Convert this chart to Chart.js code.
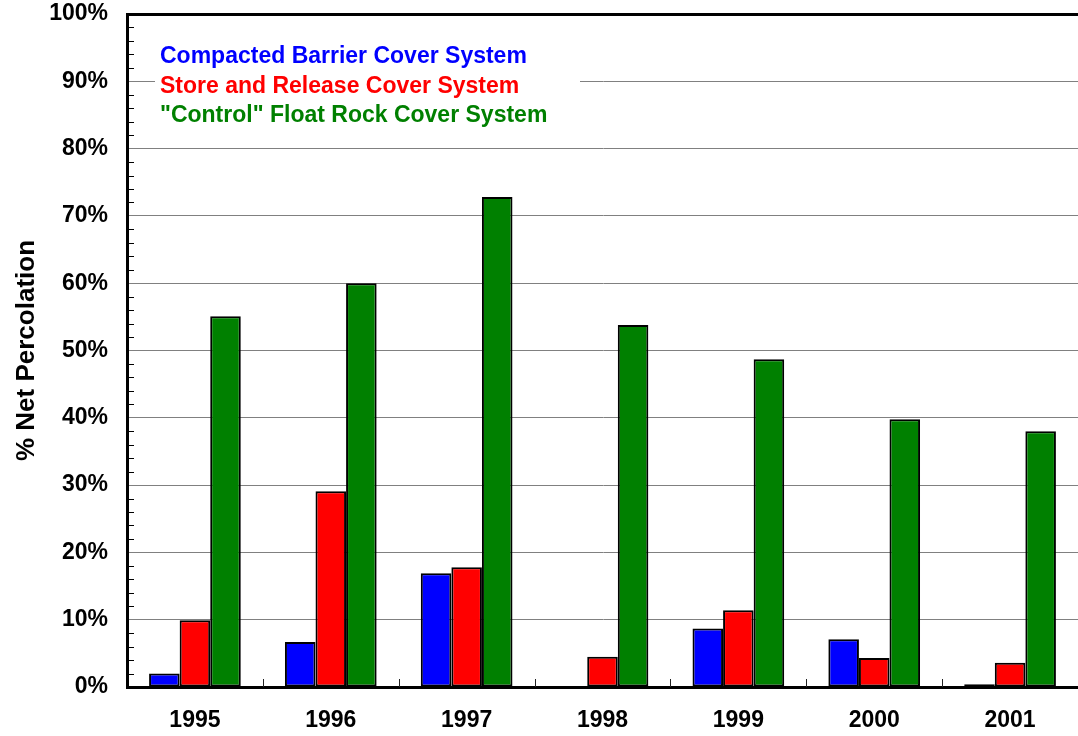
<!DOCTYPE html>
<html><head><meta charset="utf-8">
<script src="https://cdn.jsdelivr.net/npm/chart.js@4/dist/chart.umd.min.js"></script>
<style>html,body{margin:0;padding:0;background:#fff}#wrap{width:1078px;height:736px;position:relative}</style>
</head><body><div id="wrap"><canvas id="c"></canvas></div>
<script>
const categories = ['1995','1996','1997','1998','1999','2000','2001'];
const seriesNames = ['Compacted Barrier Cover System','Store and Release Cover System','"Control" Float Rock Cover System'];
const compactedBarrier = [2.0, 6.7, 16.9, 0.1, 8.7, 7.1, 0.4];
const storeRelease = [9.9, 29.1, 17.8, 4.5, 11.4, 4.3, 3.6];
const controlFloatRock = [55.1, 60.0, 72.8, 53.8, 48.7, 39.8, 38.0];
const yTicks = [0,10,20,30,40,50,60,70,80,90,100];
const colors = ['#0000FF','#FF0000','#008000'];
const FONT = "'Liberation Sans', Arial, sans-serif";

const extras = {
  id: 'extras',
  afterDatasetsDraw(chart) {
    const ctx = chart.ctx, y = chart.scales.y, x = chart.scales.x, ca = chart.chartArea;
    ctx.save();
    ctx.strokeStyle = '#000'; ctx.lineWidth = 1;
    for (let v = 2; v < 100; v += 2) {
      if (v % 10 === 0) continue;
      const py = Math.round(y.getPixelForValue(v)) + 0.5;
      ctx.beginPath(); ctx.moveTo(ca.left, py); ctx.lineTo(ca.left + 7, py); ctx.stroke();
    }
    ctx.strokeStyle = '#222';
    for (let i = 0; i < categories.length - 1; i++) {
      const px = Math.round((x.getPixelForValue(i) + x.getPixelForValue(i + 1)) / 2) + 0.5;
      ctx.beginPath(); ctx.moveTo(px, ca.bottom); ctx.lineTo(px, ca.bottom - 8); ctx.stroke();
    }
    ctx.fillStyle = '#fff';
    ctx.fillRect(155, 38, 425, 92);
    ctx.font = 'bold 23px ' + FONT;
    ctx.textBaseline = 'middle'; ctx.textAlign = 'left';
    chart.data.datasets.forEach((ds, i) => {
      ctx.fillStyle = ds.backgroundColor;
      ctx.fillText(ds.label, 160, 57 + i * 29.5);
    });
    ctx.restore();
  }
};

new Chart(document.getElementById('c'), {
  type: 'bar',
  data: {
    labels: categories,
    datasets: [
      { label: seriesNames[0], data: compactedBarrier, backgroundColor: colors[0] },
      { label: seriesNames[1], data: storeRelease, backgroundColor: colors[1] },
      { label: seriesNames[2], data: controlFloatRock, backgroundColor: colors[2] }
    ].map(d => Object.assign(d, { borderColor: '#000', borderWidth: 2, borderSkipped: false, barPercentage: 1.0, categoryPercentage: 0.675 }))
  },
  options: {
    responsive: true, maintainAspectRatio: false, animation: false,
    layout: { padding: 0 },
    plugins: { legend: { display: false }, tooltip: { enabled: false } },
    scales: {
      x: {
        grid: { display: false, drawTicks: false },
        border: { color: '#000', width: 3 },
        ticks: { color: '#000', font: { family: FONT, size: 23, weight: 'bold' }, padding: 20, maxRotation: 0 },
        afterFit(s) { s.height = 49; s.paddingLeft = 0; s.paddingRight = 0; }
      },
      y: {
        min: 0, max: 100,
        afterBuildTicks(s) { s.ticks = yTicks.map(v => ({ value: v })); },
        grid: {
          drawTicks: false,
          color: c => c.tick && c.tick.value === 100 ? '#000' : '#808080',
          lineWidth: c => c.tick && c.tick.value === 100 ? 3 : 1
        },
        border: { color: '#000', width: 3 },
        ticks: { color: '#000', font: { family: FONT, size: 23, weight: 'bold' }, padding: 19, callback: v => v + '%' },
        title: { display: true, text: '% Net Percolation', color: '#000', font: { family: FONT, size: 26, weight: 'bold' }, padding: { top: 11, bottom: 0 } },
        afterFit(s) { s.width = 127; s.paddingTop = 14; s.paddingBottom = 0; }
      }
    }
  },
  plugins: [extras]
});
</script></body></html>
